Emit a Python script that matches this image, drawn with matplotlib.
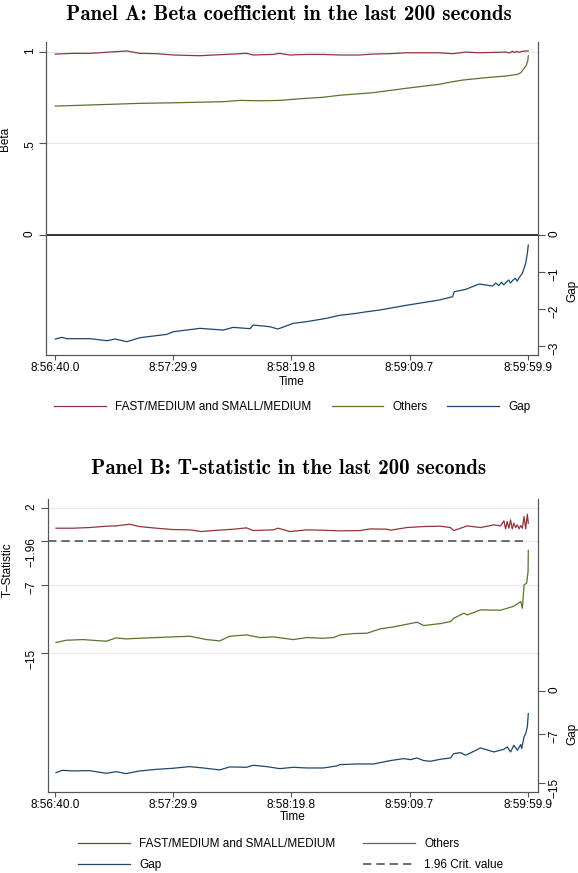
import matplotlib
matplotlib.use('Agg')
import matplotlib.pyplot as plt
import numpy as np

plt.rcParams['font.family'] = ['Liberation Sans', 'DejaVu Sans']
plt.rcParams['font.size'] = 8.5

# colours (Stata s2color)
c_fm = '#90353b'
c_oth = '#55752f'
c_gap = '#1a476f'
c_axis = '#555555'
c_grid = '#e4ecec'

# time axis, seconds after 8:56:40.0
time_ticks = [0, 49.9, 99.8, 149.7, 199.9]
time_labels = ['8:56:40.0', '8:57:29.9', '8:58:19.8', '8:59:09.7', '8:59:59.9']

########################################################
# Panel A: beta coefficients
beta_t_fm = [0, 7.7, 14.8, 21.8, 30.2, 35.8, 42.9, 49.9, 61.1, 66.8,
             75.2, 80.8, 83.6, 92.0, 94.8, 99.1, 106.1, 113.1, 120.1, 128.6,
             134.2, 141.2, 148.2, 155.2, 162.3, 167.9, 173.5, 179.1, 184.8, 190.4,
             192.0, 193.2, 194.0, 195.0, 196.0, 197.0, 198.8, 199.9]
beta_fm = [0.987, 0.991, 0.991, 0.997, 1.004, 0.991, 0.989, 0.982, 0.978, 0.982,
           0.987, 0.991, 0.982, 0.985, 0.991, 0.982, 0.985, 0.985, 0.982, 0.982,
           0.987, 0.989, 0.994, 0.994, 0.994, 0.989, 0.998, 0.994, 0.996, 0.998,
           0.993, 1.003, 0.995, 1.002, 0.996, 1.001, 1.004, 1.004]

beta_t_oth = [0, 21.8, 35.8, 49.9, 71.0, 78.0, 87.8, 94.8, 103.3, 113.1,
              120.1, 134.2, 148.2, 162.3, 167.9, 172.1, 183.4, 190.4, 195.3, 196.7,
              198.1, 199.1, 199.7, 199.9]
beta_oth = [0.703, 0.712, 0.718, 0.721, 0.727, 0.734, 0.732, 0.734, 0.743, 0.751,
            0.762, 0.776, 0.800, 0.822, 0.836, 0.845, 0.860, 0.867, 0.876, 0.885,
            0.909, 0.927, 0.951, 0.978]

beta_t_gap = [0, 2.8, 4.9, 14.8, 21.8, 25.3, 30.2, 35.8, 47.1, 49.9,
              61.1, 71.0, 75.2, 82.3, 83.6, 90.6, 94.1, 100.5, 106.1, 114.5,
              120.1, 127.2, 130.7, 137.0, 148.2, 155.2, 162.3, 167.9, 168.6, 170.7,
              173.5, 179.1, 184.8, 186.2, 187.4, 188.6, 189.5, 190.4, 191.6, 192.4,
              193.2, 194.4, 195.2, 196.0, 197.4, 198.8, 199.5, 199.9]
beta_gap = [-2.818, -2.773, -2.809, -2.809, -2.864, -2.818, -2.891, -2.782, -2.692, -2.620,
            -2.529, -2.575, -2.502, -2.538, -2.439, -2.484, -2.547, -2.394, -2.349, -2.258,
            -2.177, -2.123, -2.087, -2.033, -1.906, -1.834, -1.762, -1.671, -1.536, -1.509,
            -1.472, -1.328, -1.382, -1.30, -1.37, -1.28, -1.35, -1.292, -1.22, -1.30,
            -1.238, -1.17, -1.25, -1.156, -1.039, -0.768, -0.497, -0.271]

########################################################
# Panel B: t-statistics
tstat_t_fm = [0.3, 7.3, 14.4, 21.5, 25.7, 31.4, 35.6, 42.7, 49.7, 56.8,
              61.7, 66.7, 75.2, 80.8, 83.6, 92.1, 94.2, 99.2, 106.2, 113.3,
              120.4, 128.9, 133.1, 140.2, 141.6, 148.6, 155.7, 162.8, 167.0, 168.4,
              174.1, 179.7, 185.4, 188.2, 189.6, 190.3, 191.0, 191.7, 192.4, 193.1,
              193.8, 194.6, 195.3, 196.0, 196.7, 197.4, 198.1, 198.8, 199.5, 199.9]
tstat_fm = [-0.409, -0.409, -0.331, -0.175, -0.137, 0.058, -0.215, -0.409, -0.565, -0.604,
            -0.798, -0.682, -0.526, -0.370, -0.682, -0.604, -0.409, -0.798, -0.604, -0.643,
            -0.720, -0.682, -0.487, -0.526, -0.643, -0.331, -0.215, -0.175, -0.331, -0.682,
            -0.137, -0.331, -0.020, -0.137, 0.447, -0.487, 0.369, -0.409, 0.564, -0.487,
            0.175, -0.331, -0.020, -0.487, -0.098, -0.409, 0.953, -0.487, 1.226, 0.175]

tstat_t_oth = [0.3, 4.5, 11.6, 21.5, 25.7, 29.9, 35.6, 42.7, 56.8, 63.9,
               69.5, 73.7, 80.8, 86.5, 92.1, 100.6, 106.2, 113.3, 117.6, 120.4,
               126.0, 131.7, 137.3, 143.0, 147.2, 152.9, 155.7, 162.8, 167.0, 168.4,
               172.7, 174.1, 179.7, 188.2, 193.8, 196.7, 197.4, 198.1, 199.2, 199.8,
               199.9]
tstat_oth = [-13.758, -13.486, -13.408, -13.602, -13.213, -13.330, -13.252, -13.175, -13.018, -13.408,
             -13.563, -13.018, -12.863, -13.175, -13.096, -13.408, -13.175, -13.252, -13.175, -12.863,
             -12.708, -12.668, -12.162, -11.929, -11.695, -11.384, -11.773, -11.540, -11.306, -10.917,
             -10.333, -10.528, -9.944, -9.983, -9.516, -8.971, -9.749, -7.025, -6.830, -5.469,
             -3.0]

tstat_t_gap = [0.3, 3.1, 7.3, 14.4, 21.5, 25.7, 29.9, 35.6, 42.7, 49.7,
               56.8, 62.5, 69.5, 73.7, 80.8, 83.6, 89.3, 94.9, 100.6, 106.2,
               113.3, 118.9, 120.4, 127.4, 134.5, 141.6, 147.2, 150.1, 152.9, 155.7,
               158.5, 162.8, 167.0, 168.4, 171.3, 173.4, 176.9, 179.7, 185.4, 189.6,
               191.0, 192.4, 193.8, 195.3, 196.7, 197.1, 198.1, 198.8, 199.5, 199.9]
tstat_gap = [-13.35, -12.97, -13.08, -13.02, -13.46, -13.19, -13.51, -13.08, -12.81, -12.64,
             -12.37, -12.59, -12.91, -12.42, -12.48, -12.15, -12.37, -12.70, -12.48, -12.59,
             -12.59, -12.26, -12.04, -11.94, -11.94, -11.39, -11.07, -11.23, -10.96, -11.39,
             -11.50, -11.17, -10.96, -10.25, -10.09, -10.52, -9.87, -9.33, -9.98, -9.54,
             -9.16, -9.98, -8.89, -9.71, -8.78, -9.43, -7.53, -6.99, -5.90, -3.72]

crit_value = -1.96

beta_ticks = [0, 0.5, 1]
beta_labels = ['0', '.5', '1']
beta_gap_ticks = [-3, -2, -1, 0]
beta_gap_labels = ['\u22123', '\u22122', '\u22121', '0']
tstat_ticks = [-15, -7, -1.96, 2]
tstat_labels = ['\u221215', '\u22127', '\u22121.96', '2']
tstat_gap_ticks = [-15, -7, 0]
tstat_gap_labels = ['\u221215', '\u22127', '0']

lbl_fm = 'FAST/MEDIUM and SMALL/MEDIUM'
lbl_oth = 'Others'
lbl_gap = 'Gap'
lbl_crit = '1.96 Crit. value'


def style_axes(ax, ax2, xlo):
    ax.set_xlim(xlo, 204.0)
    ax.set_xticks(time_ticks)
    ax.set_xticklabels(time_labels)
    for a in (ax, ax2):
        a.spines['top'].set_visible(False)
        for s in ('left', 'right', 'bottom'):
            a.spines[s].set_color(c_axis)
            a.spines[s].set_linewidth(0.8)
        a.tick_params(axis='y', direction='out', length=5, width=0.8, color=c_axis,
                      labelsize=8.5, pad=2.5, labelrotation=90)
    ax.tick_params(axis='x', direction='out', length=3.6, width=0.8, color=c_axis,
                   labelsize=8.5, pad=1.5)
    ax.grid(axis='y', color=c_grid, lw=0.8)
    ax.set_axisbelow(True)
    ax.set_xlabel('Time')
    ax.xaxis.set_label_coords(0.5, -0.066)


fig = plt.figure(figsize=(5.78, 8.73), dpi=100)
title_font = dict(ha='center', va='center', family='cmb10', fontsize=15)

# ---------------- Panel A ----------------
axA = fig.add_axes([0.0796, 0.5934, 0.8512, 0.3585])
axA2 = axA.twinx()
axA.set_ylim(-0.656, 1.053)
axA2.set_ylim(-3.25, 5.23)
axA.axhline(0, color='black', lw=1.1, zorder=1)
hA1, = axA.plot(beta_t_fm, beta_fm, color=c_fm, lw=0.9, label=lbl_fm)
hA2, = axA.plot(beta_t_oth, beta_oth, color=c_oth, lw=0.9, label=lbl_oth)
hA3, = axA2.plot(beta_t_gap, beta_gap, color=c_gap, lw=0.9, label=lbl_gap)
axA.set_yticks(beta_ticks)
axA.set_yticklabels(beta_labels)
axA2.set_yticks(beta_gap_ticks)
axA2.set_yticklabels(beta_gap_labels)
style_axes(axA, axA2, -3.93)
axA.set_ylabel('Beta')
axA.yaxis.set_label_coords(-0.0705, 0.69)
axA2.set_ylabel('Gap')
axA2.yaxis.set_label_coords(1.057, 0.205)
fig.legend(handles=[hA1, hA2, hA3], loc='center', bbox_to_anchor=(0.506, 0.5338),
           ncol=3, frameon=False, fontsize=8.5, handlelength=4.4,
           handletextpad=0.75, columnspacing=1.7)
fig.text(0.5, 1 - 14 / 873, 'Panel A: Beta coefficient in the last 200 seconds',
         **title_font)

# ---------------- Panel B ----------------
axB = fig.add_axes([0.0830, 0.0928, 0.8478, 0.3356])
axB2 = axB.twinx()
axB.set_ylim(-31.2, 3.0)
axB2.set_ylim(-16.5, 31.2)
hB1, = axB.plot(tstat_t_fm, tstat_fm, color=c_fm, lw=0.9, label=lbl_fm)
hB2, = axB.plot(tstat_t_oth, tstat_oth, color=c_oth, lw=0.9, label=lbl_oth)
hB4 = axB.hlines(crit_value, -3.1, tstat_t_fm[-1], colors='#555555', lw=1.2,
                 linestyles=(0, (5, 3)), label=lbl_crit)
hB3, = axB2.plot(tstat_t_gap, tstat_gap, color=c_gap, lw=0.9, label=lbl_gap)
axB.set_yticks(tstat_ticks)
axB.set_yticklabels(tstat_labels)
axB2.set_yticks(tstat_gap_ticks)
axB2.set_yticklabels(tstat_gap_labels)
style_axes(axB, axB2, -3.1)
axB.set_ylabel('T\u2013Statistic')
axB.yaxis.set_label_coords(-0.0700, 0.76)
axB2.set_ylabel('Gap')
axB2.yaxis.set_label_coords(1.057, 0.20)
fig.legend(handles=[hB1, hB3, hB2, hB4], loc='center', bbox_to_anchor=(0.503, 0.0212),
           ncol=2, frameon=False, fontsize=8.5, handlelength=4.4,
           handletextpad=0.75, columnspacing=2.4, labelspacing=0.75)
fig.text(0.5, 1 - 469 / 873, 'Panel B: T-statistic in the last 200 seconds',
         **title_font)

fig.savefig('out.png', dpi=100)
